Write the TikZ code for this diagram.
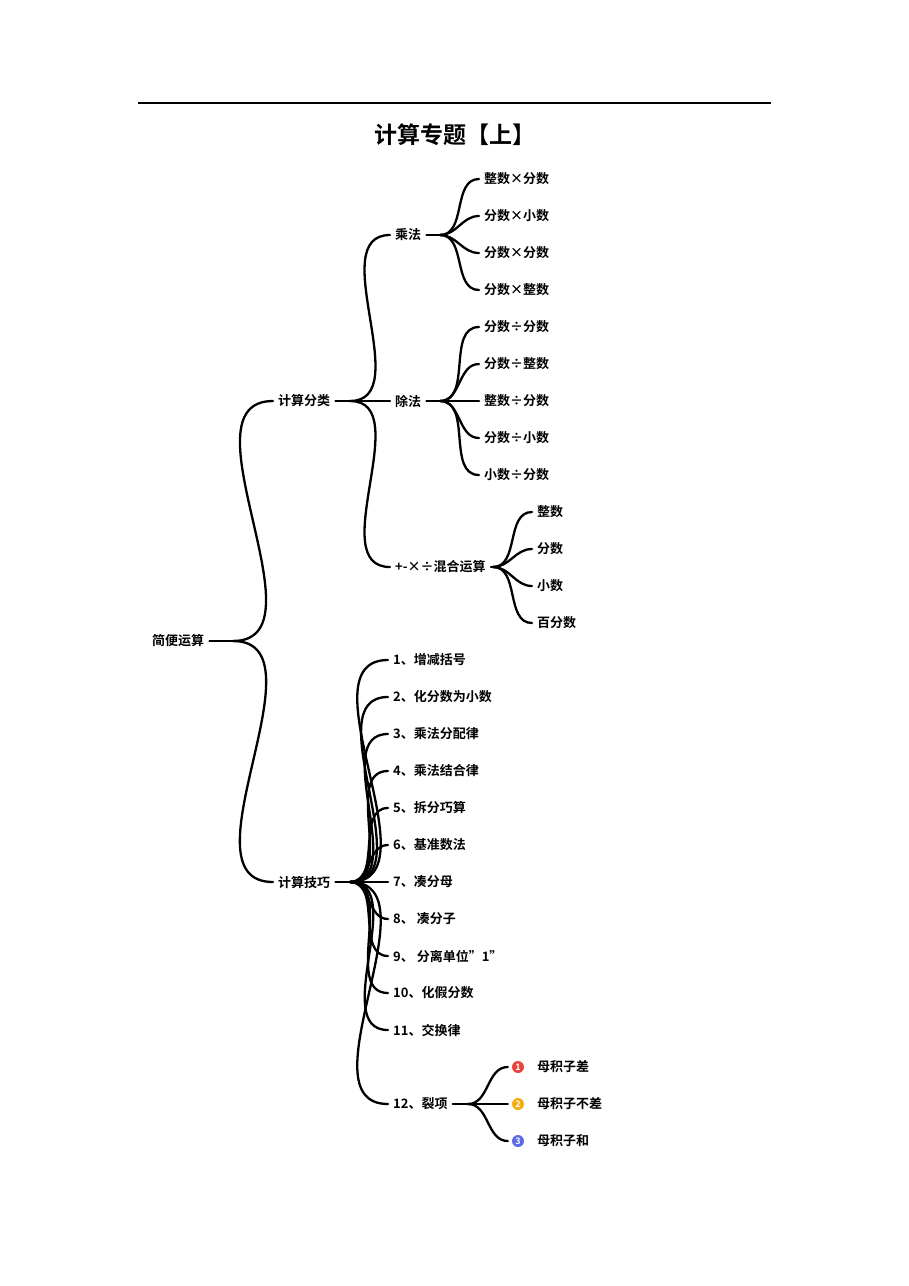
\documentclass[tikz,border=0pt]{standalone}
\usepackage{fontspec}
\setmainfont{Noto Sans CJK SC}[BoldFont={* Bold}]
\begin{document}
\begin{tikzpicture}[x=1pt,y=-1pt,
  t/.style={anchor=west,inner sep=0pt,inner xsep=5pt,font=\fontsize{13}{15}\selectfont\bfseries},
  br/.style={line width=2.3pt,line cap=round},
  cn/.style={circle,inner sep=0pt,minimum size=12pt,text=white,font=\fontsize{9}{9}\selectfont\bfseries}]
\useasboundingbox (0,0) rectangle (909,1286);
\draw[line width=1.2pt] (138,103) -- (771,103);
\node[font=\fontsize{23}{26}\selectfont\bfseries] (title) at (455,135) {计算专题【上】};
% level 0
\node[t] (root) at (147,641) {简便运算};
\coordinate (j0) at (233,641);
\draw[br] (root.east) -- (j0);
\node[t] (c1) at (273,401) {计算分类};
\node[t] (c2) at (273,882) {计算技巧};
\foreach \c in {c1,c2} \draw[br] (j0) to[out=0,in=180] (\c.west);
% 计算分类
\coordinate (j1) at (350,401);
\draw[br] (c1.east) -- (j1);
\node[t] (m) at (390,235) {乘法};
\node[t] (d) at (390,401) {除法};
\node[t] (h) at (390,567) {+-×÷混合运算};
\foreach \c in {m,d,h} \draw[br] (j1) to[out=0,in=180] (\c.west);
% 乘法
\coordinate (jm) at (440,235);
\draw[br] (m.east) -- (jm);
\foreach \n/\y/\s in {m1/179/整数×分数,m2/216/分数×小数,m3/253/分数×分数,m4/290/分数×整数}{
  \node[t] (\n) at (479,\y) {\s};
  \draw[br] (jm) to[out=0,in=180] (\n.west);}
% 除法
\coordinate (jd) at (440,401);
\draw[br] (d.east) -- (jd);
\foreach \n/\y/\s in {d1/327/分数÷分数,d2/364/分数÷整数,d3/401/整数÷分数,d4/438/分数÷小数,d5/475/小数÷分数}{
  \node[t] (\n) at (479,\y) {\s};
  \draw[br] (jd) to[out=0,in=180] (\n.west);}
% 混合
\coordinate (jh) at (493,567);
\draw[br] (h.east) -- (jh);
\foreach \n/\y/\s in {h1/512/整数,h2/549/分数,h3/586/小数,h4/623/百分数}{
  \node[t] (\n) at (532,\y) {\s};
  \draw[br] (jh) to[out=0,in=180] (\n.west);}
% 计算技巧
\coordinate (j2) at (350,882);
\draw[br] (c2.east) -- (j2);
\foreach \n/\y/\s in {k1/660/1、增减括号,k2/697/2、化分数为小数,k3/734/3、乘法分配律,k4/771/4、乘法结合律,k5/808/5、拆分巧算,k6/845/6、基准数法,k7/882/7、凑分母,k8/919/8、 凑分子,k9/956/9、 分离单位"1",k10/993/10、化假分数,k11/1030/11、交换律,k12/1104/12、裂项}{
  \node[t] (\n) at (388,\y) {\s};
  \draw[br] (j2) to[out=0,in=180] (\n.west);}
% 裂项
\coordinate (jl) at (468,1104);
\draw[br] (k12.east) -- (jl);
\foreach \n/\y/\s/\k/\col in {l1/1067/母积子差/1/E8453C,l2/1104/母积子不差/2/F5AC0F,l3/1141/母积子和/3/5B6BE8}{
  \definecolor{cc}{HTML}{\col}
  \node[cn,fill=cc] (\n c) at (518,\y) {\k};
  \node[t] (\n) at (532,\y) {\s};
  \draw[br] (jl) to[out=0,in=180] ([xshift=-4pt]\n c.west);}
\end{tikzpicture}
\end{document}
